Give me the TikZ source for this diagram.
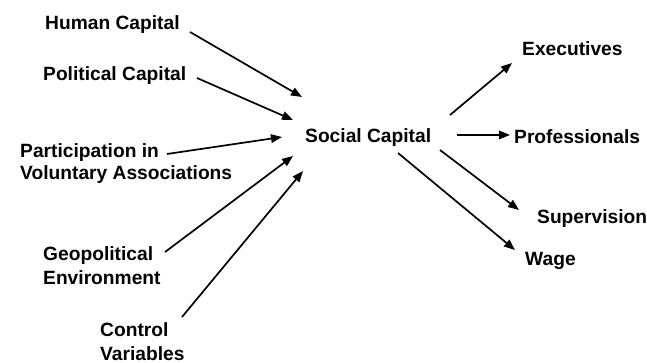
\documentclass[tikz,border=0pt]{standalone}
\usepackage{fontspec}
\setmainfont{Liberation Sans}
\usetikzlibrary{arrows.meta}
\begin{document}
\begin{tikzpicture}[x=1pt,y=-1pt,
  lbl/.style={anchor=base west,inner sep=0pt,font=\fontsize{19.2}{22}\selectfont\bfseries},
  arr/.style={line width=1.7pt,-{Triangle[length=11pt,width=8.5pt]}}]
\useasboundingbox (0,0) rectangle (647,363);
% left labels
\node[lbl] (hc) at (45,30) {Human Capital};
\node[lbl] (pc) at (43,81) {Political Capital};
\node[lbl] (pa) at (20,158) {Participation in};
\node[lbl] (va) at (20,180) {Voluntary Associations};
\node[lbl] (ge) at (43,260) {Geopolitical};
\node[lbl] (en) at (43,284) {Environment};
\node[lbl] (co) at (100,336) {Control};
\node[lbl] (vb) at (100,360) {Variables};
% centre
\node[lbl] (sc) at (305,143) {Social Capital};
% right labels
\node[lbl] (ex) at (522,56) {Executives};
\node[lbl] (pr) at (514,144) {Professionals};
\node[lbl] (su) at (537,223) {Supervision};
\node[lbl] (wa) at (525,265) {Wage};
% arrow end points
\coordinate (hcS) at (190,32);  \coordinate (hcT) at (302,97);
\coordinate (pcS) at (197,78);  \coordinate (pcT) at (293,120);
\coordinate (paS) at (167,154); \coordinate (paT) at (282,137);
\coordinate (geS) at (165,252); \coordinate (geT) at (293,156);
\coordinate (coS) at (182,317); \coordinate (coT) at (303,171);
\coordinate (exS) at (450,115); \coordinate (exT) at (512,63);
\coordinate (prS) at (457,135); \coordinate (prT) at (510,135);
\coordinate (suS) at (440,150); \coordinate (suT) at (519,210);
\coordinate (waS) at (398,153); \coordinate (waT) at (515,250);
\draw[arr] (hcS) -- (hcT);
\draw[arr] (pcS) -- (pcT);
\draw[arr] (paS) -- (paT);
\draw[arr] (geS) -- (geT);
\draw[arr] (coS) -- (coT);
\draw[arr] (exS) -- (exT);
\draw[arr] (prS) -- (prT);
\draw[arr] (suS) -- (suT);
\draw[arr] (waS) -- (waT);
\end{tikzpicture}
\end{document}
